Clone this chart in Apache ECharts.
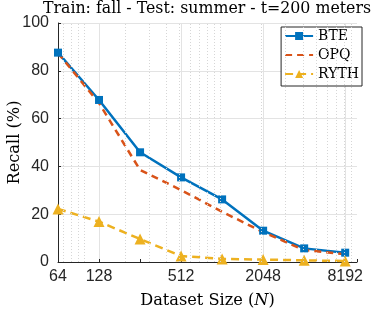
<!DOCTYPE html>
<html>
<head>
<meta charset="utf-8">
<script src="https://cdn.jsdelivr.net/npm/echarts@6/dist/echarts.min.js"></script>
<style>html,body{margin:0;padding:0;background:#fff;}#c{width:374px;height:309px;}</style>
</head>
<body>
<div id="c"></div>
<script>
const datasetSizes = [64, 128, 256, 512, 1024, 2048, 4096, 8192];
const bte = [87.6, 67.8, 45.9, 35.4, 26.2, 13.1, 5.7, 3.9];
const opq = [87.4, 66.5, 38.5, 30.1, 21.0, 12.5, 5.0, 3.2];
const ryth = [22.2, 16.9, 9.6, 2.5, 1.3, 1.0, 0.7, 0.4];
const xTickLabels = [64, 128, 512, 2048, 8192];
const yTicks = [0, 20, 40, 60, 80, 100];
const xMinorGrid = [70, 80, 90, 100, 200, 300, 400, 500, 600, 700, 800, 900, 1000,
  2000, 3000, 4000, 5000, 6000, 7000, 8000, 9000];

const serif = 'DejaVu Serif';
const sans = 'Liberation Sans';
const axisColor = '#262626';

const chart = echarts.init(document.getElementById('c'), null, {renderer: 'canvas'});

function pairs(vals) { return datasetSizes.map((n, i) => [n, vals[i]]); }

chart.setOption({
  animation: false,
  backgroundColor: '#fff',
  title: {
    text: 'Train: fall - Test: summer - t=200 meters',
    left: 207, textAlign: 'center', top: 1, padding: 0,
    textStyle: {fontFamily: serif, fontSize: 15.8, fontWeight: 'normal', color: '#000'}
  },
  grid: {left: 58, right: 17, top: 23, bottom: 47, containLabel: false, outerBoundsMode: 'none'},
  legend: {
    orient: 'vertical', right: 12, top: 27,
    padding: [2, 3, 5, 3], itemGap: 5, itemWidth: 28, itemHeight: 10,
    borderColor: axisColor, borderWidth: 1, backgroundColor: '#fff',
    textStyle: {fontFamily: serif, fontSize: 14, color: '#000'},
    data: ['BTE', {name: 'OPQ', itemStyle: {opacity: 0}}, 'RYTH']
  },
  xAxis: {
    type: 'log', logBase: 2, min: 64, max: 10000,
    name: 'Dataset Size ({i|N})', nameLocation: 'middle', nameGap: 31, nameMoveOverlap: false,
    nameTextStyle: {fontFamily: serif, fontSize: 16.2, color: '#000',
      rich: {i: {fontFamily: serif, fontSize: 16.2, fontStyle: 'italic', color: '#000'}}},
    axisLine: {show: true, lineStyle: {color: axisColor, width: 1}},
    axisTick: {show: true, inside: true, length: 3, lineStyle: {color: axisColor}},
    axisLabel: {
      fontFamily: sans, fontSize: 16, color: axisColor, margin: 7, showMaxLabel: true,
      formatter: function (v) { const r = Math.round(v); return xTickLabels.indexOf(r) >= 0 ? String(r) : ''; }
    },
    splitLine: {show: true, lineStyle: {color: ['rgba(0,0,0,0)', '#e3e3e3'], width: 1}}
  },
  yAxis: {
    type: 'value', min: yTicks[0], max: yTicks[yTicks.length - 1], interval: 20,
    name: 'Recall (%)', nameLocation: 'middle', nameGap: 35, nameRotate: 90, nameMoveOverlap: false,
    nameTextStyle: {fontFamily: serif, fontSize: 16.2, color: '#000'},
    axisLine: {show: true, lineStyle: {color: axisColor, width: 1}},
    axisTick: {show: true, inside: true, length: 3, lineStyle: {color: axisColor}},
    axisLabel: {fontFamily: sans, fontSize: 16, color: axisColor, margin: 9},
    splitLine: {show: true, lineStyle: {color: '#e3e3e3', width: 1}}
  },
  series: [
    {
      name: 'grid-minor', type: 'line', data: [], silent: true,
      markLine: {
        silent: true, symbol: 'none', label: {show: false}, animation: false,
        lineStyle: {type: [1, 2], color: '#d6d6d6', width: 1},
        data: xMinorGrid.map(v => ({xAxis: v}))
      }
    },
    {
      name: 'BTE', type: 'line', data: pairs(bte),
      symbol: 'rect', symbolSize: 8, showAllSymbol: true,
      lineStyle: {color: '#0072BD', width: 2.5},
      itemStyle: {color: '#0072BD'}
    },
    {
      name: 'OPQ', type: 'line', data: pairs(opq),
      symbol: 'none',
      lineStyle: {color: '#D95319', width: 2.5, type: [7, 5]},
      itemStyle: {color: '#D95319'}
    },
    {
      name: 'RYTH', type: 'line', data: pairs(ryth),
      symbol: 'triangle', symbolSize: 11, showAllSymbol: true,
      lineStyle: {color: '#EDB120', width: 2.5, type: [8, 5]},
      itemStyle: {color: '#EDB120'}
    }
  ]
});
</script>
</body>
</html>
